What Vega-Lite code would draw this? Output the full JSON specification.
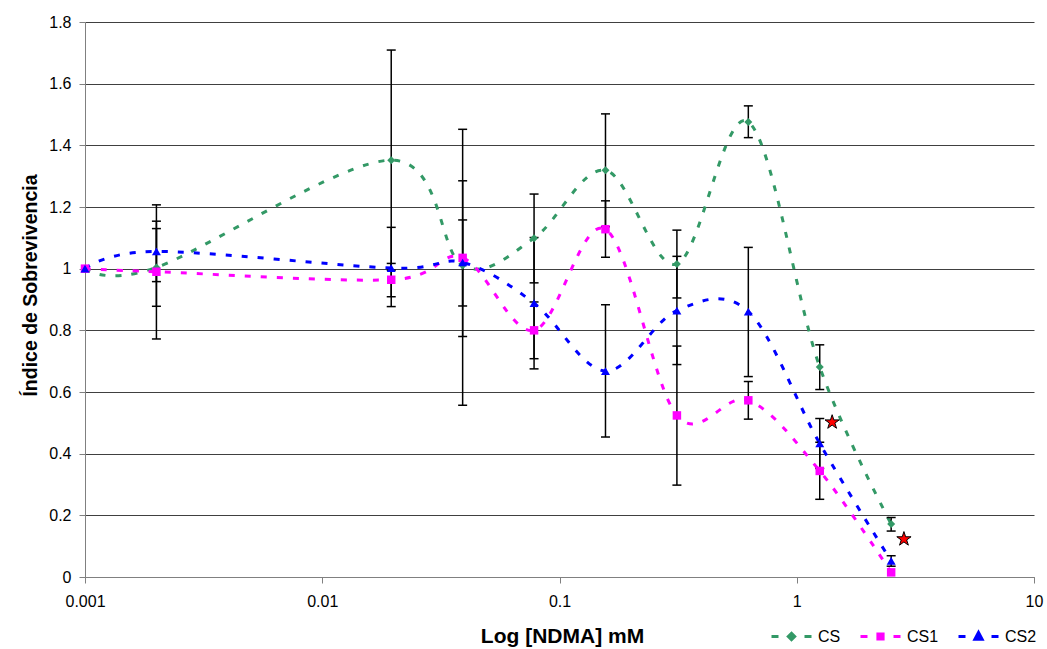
{
  "$schema": "https://vega.github.io/schema/vega-lite/v6.json",
  "width": 949,
  "height": 555,
  "autosize": {"type": "none"},
  "padding": {"left": 85, "top": 22, "right": 13, "bottom": 72},
  "background": "white",
  "config": {
    "font": "Liberation Sans",
    "view": {"stroke": null}
  },
  "datasets": {
    "series": [
      {"series": "CS", "x": 0.001, "y": 1.0, "lo": null, "hi": null},
      {"series": "CS", "x": 0.002, "y": 1.004, "lo": 0.878, "hi": 1.13},
      {"series": "CS", "x": 0.01953125, "y": 1.352, "lo": 0.995, "hi": 1.709},
      {"series": "CS", "x": 0.0390625, "y": 1.01, "lo": 0.557, "hi": 1.452},
      {"series": "CS", "x": 0.078125, "y": 1.099, "lo": 0.954, "hi": 1.242},
      {"series": "CS", "x": 0.15625, "y": 1.319, "lo": 1.136, "hi": 1.502},
      {"series": "CS", "x": 0.3125, "y": 1.015, "lo": 0.905, "hi": 1.125},
      {"series": "CS", "x": 0.625, "y": 1.476, "lo": 1.425, "hi": 1.528},
      {"series": "CS", "x": 1.25, "y": 0.681, "lo": 0.608, "hi": 0.753},
      {"series": "CS", "x": 2.5, "y": 0.172, "lo": 0.149, "hi": 0.193},
      {"series": "CS1", "x": 0.001, "y": 1.0, "lo": null, "hi": null},
      {"series": "CS1", "x": 0.002, "y": 0.99, "lo": 0.772, "hi": 1.207},
      {"series": "CS1", "x": 0.01953125, "y": 0.964, "lo": 0.909, "hi": 1.017},
      {"series": "CS1", "x": 0.0390625, "y": 1.035, "lo": 0.78, "hi": 1.285},
      {"series": "CS1", "x": 0.078125, "y": 0.8, "lo": 0.708, "hi": 0.892},
      {"series": "CS1", "x": 0.15625, "y": 1.128, "lo": 1.037, "hi": 1.22},
      {"series": "CS1", "x": 0.3125, "y": 0.524, "lo": 0.298, "hi": 0.749},
      {"series": "CS1", "x": 0.625, "y": 0.573, "lo": 0.512, "hi": 0.634},
      {"series": "CS1", "x": 1.25, "y": 0.344, "lo": 0.252, "hi": 0.437},
      {"series": "CS1", "x": 2.5, "y": 0.015, "lo": null, "hi": null},
      {"series": "CS2", "x": 0.001, "y": 1.0, "lo": null, "hi": null},
      {"series": "CS2", "x": 0.002, "y": 1.056, "lo": 0.958, "hi": 1.154},
      {"series": "CS2", "x": 0.01953125, "y": 1.002, "lo": 0.877, "hi": 1.134},
      {"series": "CS2", "x": 0.0390625, "y": 1.02, "lo": 0.879, "hi": 1.158},
      {"series": "CS2", "x": 0.078125, "y": 0.888, "lo": 0.675, "hi": 1.101},
      {"series": "CS2", "x": 0.15625, "y": 0.668, "lo": 0.454, "hi": 0.883},
      {"series": "CS2", "x": 0.3125, "y": 0.864, "lo": 0.689, "hi": 1.04},
      {"series": "CS2", "x": 0.625, "y": 0.861, "lo": 0.65, "hi": 1.069},
      {"series": "CS2", "x": 1.25, "y": 0.433, "lo": 0.352, "hi": 0.514},
      {"series": "CS2", "x": 2.5, "y": 0.052, "lo": 0.035, "hi": 0.069}
    ],
    "stars": [
      {"x": 1.41, "y": 0.502},
      {"x": 2.83, "y": 0.123}
    ]
  },
  "layer": [
    {
      "data": {"name": "series"},
      "mark": {"type": "line", "interpolate": "cardinal", "strokeWidth": 3, "strokeDash": [6, 10]},
      "encoding": {
        "x": {
          "field": "x", "type": "quantitative", "title": "Log [NDMA] mM",
          "scale": {"type": "log", "domain": [0.001, 10]},
          "axis": {
            "values": [0.001, 0.01, 0.1, 1, 10], "format": "~g", "grid": false,
            "domainColor": "#808080", "tickColor": "#808080", "tickSize": 6,
            "labelFontSize": 16, "labelColor": "black", "labelPadding": 10, "labelFlush": false, "labelOverlap": false,
            "titleFontSize": 21, "titleFontWeight": "bold", "titleColor": "black",
            "titleX": 477, "titleY": 65, "titleBaseline": "alphabetic", "titleAlign": "center"
          }
        },
        "y": {
          "field": "y", "type": "quantitative", "title": "Índice de Sobrevivencia",
          "scale": {"domain": [0, 1.8]},
          "axis": {
            "values": [0, 0.2, 0.4, 0.6, 0.8, 1, 1.2, 1.4, 1.6, 1.8], "format": "~g",
            "grid": true, "gridColor": "#404040", "gridWidth": 1,
            "domainColor": "#808080", "tickColor": "#808080", "tickSize": 6,
            "labelFontSize": 16, "labelColor": "black", "labelPadding": 8,
            "titleFontSize": 19.5, "titleFontWeight": "bold", "titleColor": "black",
            "titleX": -49, "titleY": 263, "titleAngle": -90, "titleBaseline": "alphabetic", "titleAlign": "center"
          }
        },
        "color": {
          "field": "series", "type": "nominal",
          "scale": {"domain": ["CS", "CS1", "CS2"], "range": ["#339966", "#FF00FF", "#0000FF"]},
          "legend": {
            "title": null, "orient": "none", "legendX": 685, "legendY": 593, "direction": "horizontal",
            "gridAlign": "none",
            "symbolSize": 1600, "symbolStrokeWidth": 3, "labelFontSize": 16, "labelColor": "black",
            "labelOffset": 5, "columnPadding": 13,
            "encode": {
              "symbols": {
                "update": {
                  "shape": {"signal": "datum.value === 'CS' ? 'M-1,0H-0.65M0.65,0H1M0,-0.16L0.16,0L0,0.16L-0.16,0Z' : datum.value === 'CS1' ? 'M-1,0H-0.65M0.65,0H1M-0.13,-0.13H0.13V0.13H-0.13Z' : 'M-1,0H-0.65M0.65,0H1M0,-0.2L0.18,0.14H-0.18Z'"},
                  "fill": {"signal": "scale('color', datum.value)"},
                  "stroke": {"signal": "scale('color', datum.value)"},
                  "opacity": {"value": 1}
                }
              }
            }
          }
        }
      }
    },
    {
      "data": {"name": "series"},
      "transform": [{"filter": "datum.lo != null"}],
      "mark": {"type": "rule", "color": "black", "strokeWidth": 1.5},
      "encoding": {
        "x": {"field": "x", "type": "quantitative", "title": "Log [NDMA] mM"},
        "y": {"field": "lo", "type": "quantitative", "title": "Índice de Sobrevivencia"},
        "y2": {"field": "hi"}
      }
    },
    {
      "data": {"name": "series"},
      "transform": [{"filter": "datum.lo != null"}],
      "mark": {"type": "tick", "orient": "horizontal", "color": "black", "thickness": 1.5, "size": 9, "opacity": 1},
      "encoding": {
        "x": {"field": "x", "type": "quantitative", "title": "Log [NDMA] mM"},
        "y": {"field": "lo", "type": "quantitative", "title": "Índice de Sobrevivencia"}
      }
    },
    {
      "data": {"name": "series"},
      "transform": [{"filter": "datum.hi != null"}],
      "mark": {"type": "tick", "orient": "horizontal", "color": "black", "thickness": 1.5, "size": 9, "opacity": 1},
      "encoding": {
        "x": {"field": "x", "type": "quantitative", "title": "Log [NDMA] mM"},
        "y": {"field": "hi", "type": "quantitative", "title": "Índice de Sobrevivencia"}
      }
    },
    {
      "data": {"name": "series"},
      "transform": [{"filter": "datum.series === 'CS'"}],
      "mark": {"type": "point", "filled": true, "size": 64, "opacity": 1, "shape": "diamond", "color": "#339966"},
      "encoding": {
        "x": {"field": "x", "type": "quantitative", "title": "Log [NDMA] mM"},
        "y": {"field": "y", "type": "quantitative", "title": "Índice de Sobrevivencia"}
      }
    },
    {
      "data": {"name": "series"},
      "transform": [{"filter": "datum.series === 'CS1'"}],
      "mark": {"type": "point", "filled": true, "size": 72, "opacity": 1, "shape": "square", "color": "#FF00FF"},
      "encoding": {
        "x": {"field": "x", "type": "quantitative", "title": "Log [NDMA] mM"},
        "y": {"field": "y", "type": "quantitative", "title": "Índice de Sobrevivencia"}
      }
    },
    {
      "data": {"name": "series"},
      "transform": [{"filter": "datum.series === 'CS2'"}],
      "mark": {"type": "point", "filled": true, "size": 80, "opacity": 1, "shape": "triangle-up", "color": "#0000FF"},
      "encoding": {
        "x": {"field": "x", "type": "quantitative", "title": "Log [NDMA] mM"},
        "y": {"field": "y", "type": "quantitative", "title": "Índice de Sobrevivencia"}
      }
    },
    {
      "data": {"name": "stars"},
      "mark": {
        "type": "point", "filled": true, "fill": "#FF0000", "stroke": "black", "strokeWidth": 1, "size": 225, "opacity": 1,
        "shape": "M0,-1L0.2245,-0.309L0.951,-0.309L0.363,0.118L0.588,0.809L0,0.382L-0.588,0.809L-0.363,0.118L-0.951,-0.309L-0.2245,-0.309Z"
      },
      "encoding": {
        "x": {"field": "x", "type": "quantitative", "title": "Log [NDMA] mM"},
        "y": {"field": "y", "type": "quantitative", "title": "Índice de Sobrevivencia"}
      }
    }
  ]
}
